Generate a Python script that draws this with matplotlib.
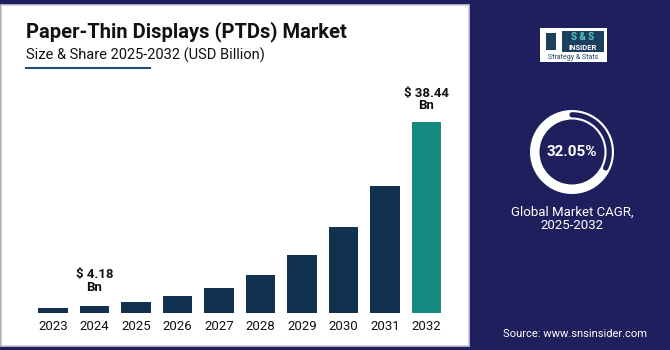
import matplotlib
matplotlib.use("Agg")
import matplotlib.pyplot as plt
from matplotlib.patches import Rectangle, Wedge
import numpy as np

plt.rcParams['font.family'] = ['Roboto', 'DejaVu Sans']

# data (bar heights as drawn in the graphic, labels as printed)
years = ['2023', '2024', '2025', '2026', '2027', '2028', '2029', '2030', '2031', '2032']
values = [1.0, 1.4, 2.2, 3.4, 5.0, 7.6, 11.6, 17.3, 25.6, 38.44]
labels = {1: '$ 4.18\nBn', 9: '$ 38.44\nBn'}
cagr = 32.05

navy_bg = '#201f5d'
bar_navy = '#12304f'
teal = '#168a80'

W, H = 670, 350
fig = plt.figure(figsize=(6.7, 3.5), dpi=100)
fig.patch.set_facecolor(navy_bg)

def fx(px):
    return px / W

def fy(py):
    return 1 - py / H

# white panel on the left
fig.patches.append(Rectangle((fx(1), fy(346)), fx(468), (346 - 5) / H,
                             transform=fig.transFigure, facecolor='white',
                             edgecolor='#c9c9d6', lw=1.2, zorder=-5))

# titles
fig.text(fx(26), fy(32), 'Paper-Thin Displays (PTDs) Market', fontsize=14.5,
         fontweight='bold', color='#111111', va='center', ha='left')
fig.text(fx(26), fy(55), 'Size & Share 2025-2032 (USD Billion)', fontsize=10.5,
         color='#111111', va='center', ha='left')
fig.add_artist(plt.Line2D([fx(26), fx(150)], [fy(68), fy(68)],
                          transform=fig.transFigure, color='#1f4e79', lw=1.5))

# bar chart
ax = fig.add_axes([fx(32.25), fy(313), fx(415), (313 - 122) / H])
ax.set_zorder(2)
colors = [bar_navy] * (len(years) - 1) + [teal]
x = np.arange(len(years))
ax.bar(x, values, width=0.72, color=colors)
ax.set_xlim(-0.5, len(years) - 0.5)
ax.set_ylim(0, max(values))
ax.set_xticks(x)
ax.set_xticklabels(years, fontsize=9.5, color='#111111')
ax.tick_params(axis='x', length=0, pad=5)
ax.set_yticks([])
for s in ax.spines.values():
    s.set_visible(False)
ax.patch.set_alpha(0)
for i, txt in labels.items():
    off = 9 if i < 9 else 7
    ax.annotate(txt, (x[i], values[i]), xytext=(0, off), textcoords='offset points',
                ha='center', va='bottom', fontsize=9.5, fontweight='bold',
                color='#111111', linespacing=0.95, annotation_clip=False)

# donut
dx = fig.add_axes([fx(572 - 50), fy(152 + 50), fx(100), 100 / H])
dx.set_zorder(2)
dx.set_xlim(-50, 50)
dx.set_ylim(-50, 50)
dx.axis('off')
dx.add_patch(Wedge((0, 0), 42, 0, 360, width=9.5, facecolor='white', edgecolor='none'))
th = np.radians(np.linspace(90, 90 - 360 * cagr / 100, 100))
dx.plot(37.2 * np.cos(th), 37.2 * np.sin(th), color=navy_bg, lw=3.8,
        solid_capstyle='round')
dx.text(0, 0, f'{cagr:.2f}%', ha='center', va='center', fontsize=11,
        fontweight='bold', color='white')
fig.text(fx(572), fy(219), 'Global Market CAGR,\n2025-2032', ha='center',
         va='center', fontsize=9.5, color='white', linespacing=1.0)

# logo
fig.patches.append(Rectangle((fx(540), fy(62)), fx(67), 34 / H,
                             transform=fig.transFigure, facecolor='white',
                             edgecolor='none'))
fig.patches.append(Rectangle((fx(562), fy(52)), fx(42), 21 / H,
                             transform=fig.transFigure, facecolor='#1c3f5e',
                             edgecolor='none'))
fig.text(fx(583), fy(36.5), 'S & S', ha='center', va='center', fontsize=7,
         fontweight='bold', color='#5fc8c0')
fig.text(fx(583), fy(47), 'INSIDER', ha='center', va='center', fontsize=5.5,
         fontweight='bold', color='white')
fig.text(fx(573.5), fy(57.5), 'Strategy & Stats', ha='center', va='center',
         fontsize=5, color='#1c3f5e')
fig.patches.append(Rectangle((fx(546), fy(50)), fx(10), 17 / H,
                             transform=fig.transFigure, facecolor='#1c3f5e',
                             edgecolor='none'))

# source
fig.text(fx(575), fy(334), 'Source: www.snsinsider.com', ha='center',
         va='center', fontsize=8, color='white')

fig.savefig('out.png', dpi=100, facecolor=fig.get_facecolor())
